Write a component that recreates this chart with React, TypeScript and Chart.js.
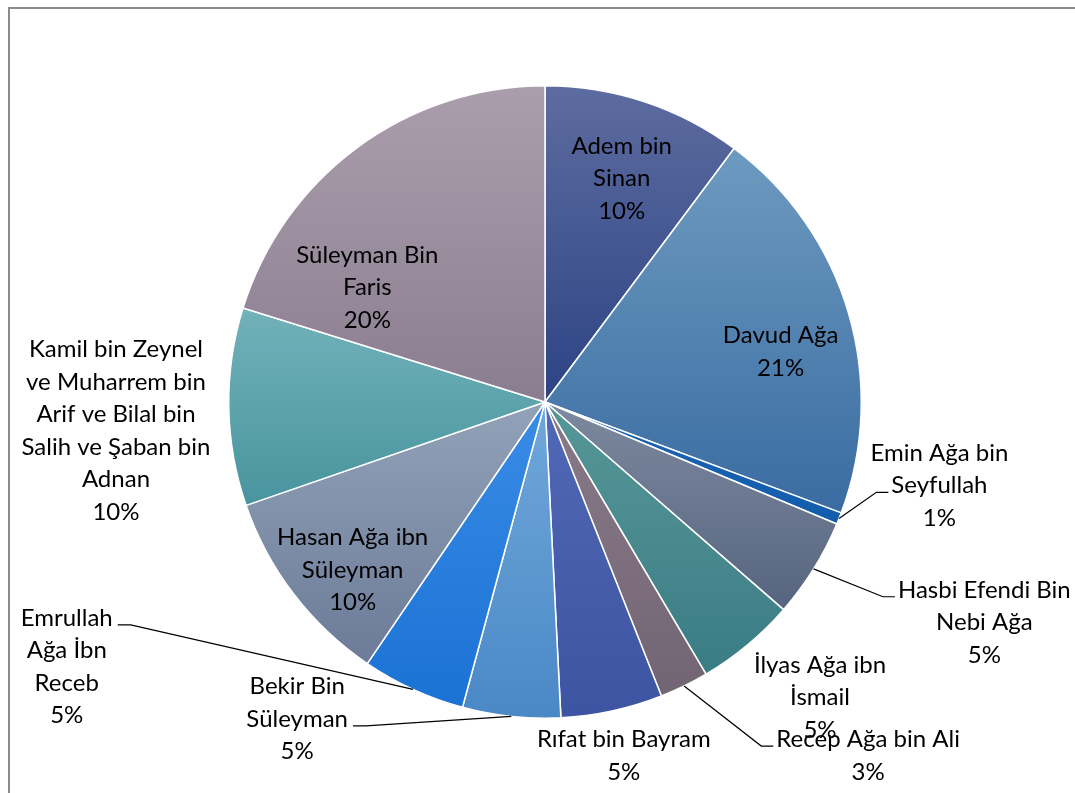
import React, { useEffect, useRef } from "react";
import { Chart, registerables } from "chart.js";

Chart.register(...registerables);

// ---- data ----
const categories = [
  "Adem bin Sinan",
  "Davud Ağa",
  "Emin Ağa bin Seyfullah",
  "Hasbi Efendi Bin Nebi Ağa",
  "İlyas Ağa ibn İsmail",
  "Recep Ağa bin Ali",
  "Rıfat bin Bayram",
  "Bekir Bin Süleyman",
  "Emrullah Ağa İbn Receb",
  "Hasan Ağa ibn Süleyman",
  "Kamil bin Zeynel ve Muharrem bin Arif ve Bilal bin Salih ve Şaban bin Adnan",
  "Süleyman Bin Faris",
];
const shares = [10.2, 20.5, 0.6, 5.1, 5.1, 2.5, 5.2, 5.0, 5.3, 10.2, 10.1, 20.2];
const labelLines = [
  ["Adem bin", "Sinan"],
  ["Davud Ağa"],
  ["Emin Ağa bin", "Seyfullah"],
  ["Hasbi Efendi Bin", "Nebi Ağa"],
  ["İlyas Ağa ibn", "İsmail"],
  ["Recep Ağa bin Ali"],
  ["Rıfat bin Bayram"],
  ["Bekir Bin", "Süleyman"],
  ["Emrullah", "Ağa İbn", "Receb"],
  ["Hasan Ağa ibn", "Süleyman"],
  ["Kamil bin Zeynel", "ve Muharrem bin", "Arif ve Bilal bin", "Salih ve Şaban bin", "Adnan"],
  ["Süleyman Bin", "Faris"],
];

// ---- styles ----
const topColors = [
  "#5d6ca0", "#6d9abf", "#1d63b4", "#7d899e", "#569898", "#897a88",
  "#5068b6", "#70a8da", "#3a8ce6", "#92a2b8", "#72b2ba", "#aa9eac",
];
const bottomColors = [
  "#2d4384", "#3a6ca2", "#125dac", "#56647f", "#3a7c84", "#726573",
  "#3c54a2", "#4a88c6", "#1a72d4", "#6b7b98", "#48949e", "#8b7d90",
];
// label placement: radius factor along slice middle + pixel nudge
const labelRadius = [0.75, 0.76, 1.27, 1.55, 1.275, 1.51, 1.145, 1.27, 1.73, 0.75, 1.36, 0.75];
const labelNudge: [number, number][] = [
  [2, 1], [5, 17], [21, -65], [23, -39], [17, -15], [113, -76],
  [2, -1], [-205, -83], [-250, -233], [-4, 23], [1, 21], [-37, 76],
];
// leader lines: [line index, side of text] or null
const leaders: ([number, "left" | "right"] | null)[] = [
  null, null, [1, "left"], [0, "left"], null, [0, "left"],
  null, [1, "right"], [0, "right"], null, null, null,
];

const FONT = "24px Lato";
const LINE_H = 32.5;
const BORDER_W = 1.5;

function sliceGradient(context: any) {
  const chart = context.chart;
  const area = chart.chartArea;
  const i = context.dataIndex;
  if (!area || i === undefined) return topColors[i ?? 0];
  const cx = (area.left + area.right) / 2;
  const cy = (area.top + area.bottom) / 2;
  const R = (Math.min(area.right - area.left, area.bottom - area.top) - BORDER_W) / 2;
  const total = shares.reduce((a, b) => a + b, 0);
  let cum = 0;
  for (let k = 0; k < i; k++) cum += shares[k];
  const a0 = (cum / total) * Math.PI * 2;
  const a1 = ((cum + shares[i]) / total) * Math.PI * 2;
  // angles measured clockwise from top; y = cy - R cos(a)
  const ys = [cy, cy - R * Math.cos(a0), cy - R * Math.cos(a1)];
  if (a0 <= 0 + 1e-9) ys.push(cy - R);
  if (a0 <= Math.PI && a1 >= Math.PI) ys.push(cy + R);
  const minY = Math.min(...ys);
  const maxY = Math.max(...ys);
  const g = chart.ctx.createLinearGradient(0, minY, 0, maxY);
  g.addColorStop(0, topColors[i]);
  g.addColorStop(1, bottomColors[i]);
  return g;
}

const labelPlugin = {
  id: "sliceLabels",
  afterDatasetsDraw(chart: any) {
    const ctx = chart.ctx;
    const meta = chart.getDatasetMeta(0);
    const total = shares.reduce((a, b) => a + b, 0);
    ctx.save();
    ctx.font = FONT;
    ctx.fillStyle = "#000000";
    ctx.textAlign = "center";
    ctx.textBaseline = "alphabetic";
    meta.data.forEach((arc: any, i: number) => {
      const mid = (arc.startAngle + arc.endAngle) / 2;
      const R = arc.outerRadius;
      const k = labelRadius[i];
      const lx = arc.x + Math.cos(mid) * R * k + labelNudge[i][0];
      const ly = arc.y + Math.sin(mid) * R * k + labelNudge[i][1];
      const pct = Math.round((shares[i] / total) * 100 + 1e-6) + "%";
      const lines = [...labelLines[i], pct];
      const n = lines.length;
      const baselines = lines.map((_, j) => ly + (j - (n - 1) / 2) * LINE_H + 8.5);
      lines.forEach((t, j) => ctx.fillText(t, lx, baselines[j]));
      const ld = leaders[i];
      if (ld) {
        const [li, side] = ld;
        const w = ctx.measureText(lines[li]).width;
        const y = baselines[li] - 1;
        const endX = side === "left" ? lx - w / 2 - 3 : lx + w / 2 + 5;
        const elbowX = side === "left" ? endX - 12 : endX + 13;
        const sx = arc.x + Math.cos(mid) * R;
        const sy = arc.y + Math.sin(mid) * R;
        ctx.beginPath();
        ctx.moveTo(sx, sy);
        ctx.lineTo(elbowX, y);
        ctx.lineTo(endX, y);
        ctx.strokeStyle = "#000000";
        ctx.lineWidth = 1.2;
        ctx.stroke();
      }
    });
    ctx.restore();
  },
};

export default function App() {
  const ref = useRef<HTMLCanvasElement | null>(null);
  useEffect(() => {
    document.body.style.margin = "0";
    const canvas = ref.current;
    if (!canvas) return;
    const chart = new Chart(canvas, {
      type: "pie",
      data: {
        labels: categories,
        datasets: [
          {
            data: shares,
            backgroundColor: sliceGradient as any,
            borderColor: "#ffffff",
            borderWidth: BORDER_W,
          },
        ],
      },
      options: {
        responsive: false,
        animation: false,
        devicePixelRatio: 1,
        layout: { padding: { left: 228, top: 85, right: 213, bottom: 74 } },
        plugins: { legend: { display: false }, tooltip: { enabled: false } },
      },
      plugins: [labelPlugin],
    });
    return () => chart.destroy();
  }, []);
  return (
    <div style={{ position: "relative", width: 1075, height: 793, overflow: "hidden", background: "#fff" }}>
      <div
        style={{
          position: "absolute",
          left: 8,
          top: 7,
          width: 1200,
          height: 1000,
          borderLeft: "2px solid #8c8c8c",
          borderTop: "2px solid #8c8c8c",
        }}
      />
      <canvas ref={ref} width={1075} height={793} style={{ position: "absolute", left: 0, top: 0 }} />
    </div>
  );
}
